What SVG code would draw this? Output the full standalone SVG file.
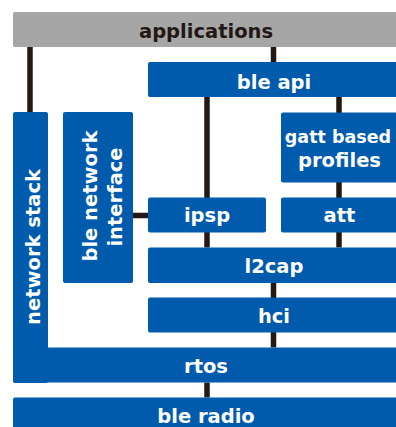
<svg xmlns="http://www.w3.org/2000/svg" width="396" height="427" viewBox="0 0 396 427">
<style>
.box{fill:#005bac}
.gray{fill:#a6a6a6}
.t{font-family:"DejaVu Sans",sans-serif;font-weight:bold;font-size:19.5px;text-anchor:middle;fill:#ffffff}
.dk{fill:#231815}
.c{stroke:#231815;stroke-width:5.5;fill:none}
</style>
<rect width="396" height="427" fill="#ffffff"/>
<g id="connectors">
<line class="c" x1="30" y1="47" x2="30" y2="112"/>
<line class="c" x1="273.5" y1="47" x2="273.5" y2="62"/>
<line class="c" x1="207" y1="97" x2="207" y2="247.5"/>
<line class="c" x1="339" y1="97" x2="339" y2="247.5"/>
<line class="c" x1="133" y1="215.5" x2="148" y2="215.5"/>
<line class="c" x1="273.5" y1="283" x2="273.5" y2="347.5"/>
<line class="c" x1="207" y1="382.5" x2="207" y2="397.5"/>
</g>
<g id="applications">
<rect class="gray" x="13" y="12" width="400" height="35" rx="2"/>
<text class="t dk" x="206" y="37.5">applications</text>
</g>
<g id="ble-api">
<rect class="box" x="148" y="62" width="260" height="35" rx="2"/>
<text class="t" x="274" y="88.5">ble api</text>
</g>
<g id="network-stack">
<rect class="box" x="13" y="112" width="35" height="271" rx="2"/>
<text class="t" transform="translate(39.5,247) rotate(-90)">network stack</text>
</g>
<g id="ble-network-interface">
<rect class="box" x="63" y="112" width="70" height="171" rx="2"/>
<text class="t" transform="translate(97,196) rotate(-90)">ble network</text>
<text class="t" transform="translate(122,197) rotate(-90)">interface</text>
</g>
<g id="gatt-based-profiles">
<rect class="box" x="281" y="112.5" width="130" height="70" rx="2"/>
<text class="t" x="338" y="143" style="font-size:17.5px">gatt based</text>
<text class="t" x="339.5" y="167">profiles</text>
</g>
<g id="ipsp">
<rect class="box" x="148" y="197.5" width="118" height="35" rx="2"/>
<text class="t" x="207" y="222">ipsp</text>
</g>
<g id="att">
<rect class="box" x="281" y="197.5" width="130" height="35" rx="2"/>
<text class="t" x="339.5" y="222">att</text>
</g>
<g id="l2cap">
<rect class="box" x="148" y="247.5" width="260" height="35.5" rx="2"/>
<text class="t" x="274" y="273">l2cap</text>
</g>
<g id="hci">
<rect class="box" x="148" y="297.5" width="260" height="35" rx="2"/>
<text class="t" x="274" y="323">hci</text>
</g>
<g id="rtos">
<rect class="box" x="13" y="347.5" width="400" height="35" rx="2"/>
<text class="t" x="206" y="373">rtos</text>
</g>
<g id="ble-radio">
<rect class="box" x="13" y="397.5" width="400" height="40" rx="2"/>
<text class="t" x="206" y="423">ble radio</text>
</g>
</svg>
